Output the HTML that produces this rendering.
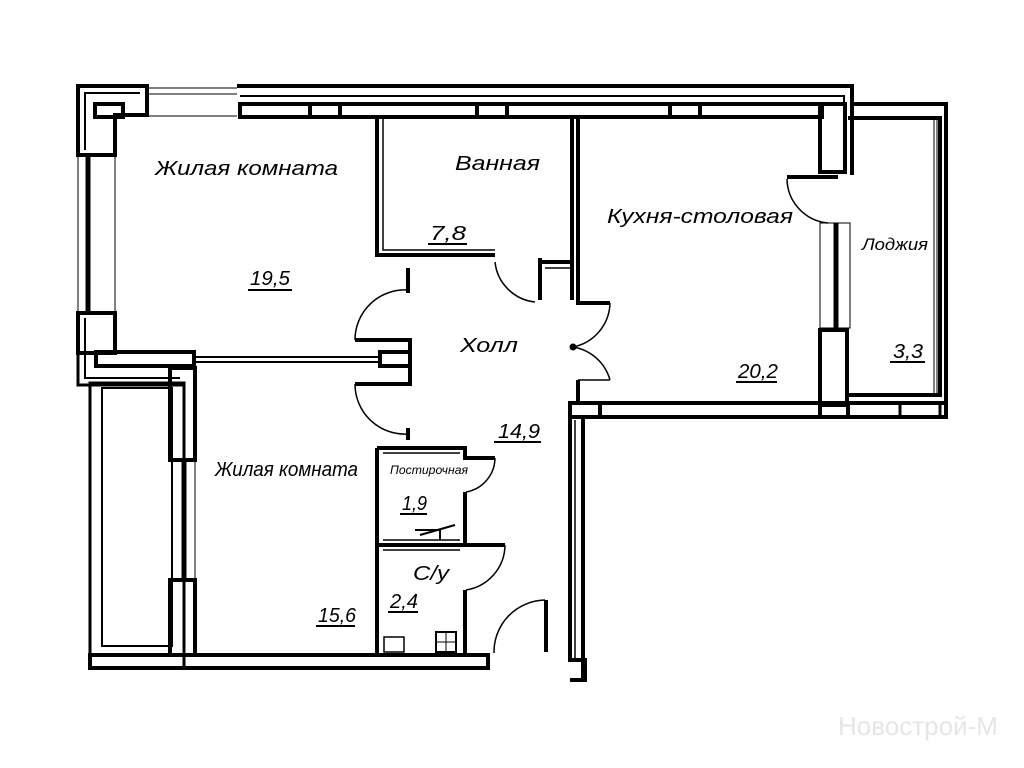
<!DOCTYPE html>
<html><head><meta charset="utf-8"><style>
html,body{margin:0;padding:0;background:#fff;}
svg{display:block}
text{font-family:"Liberation Sans","DejaVu Sans",sans-serif;font-style:italic;fill:#000}
</style></head><body>
<svg width="1024" height="768" viewBox="0 0 1024 768" xmlns="http://www.w3.org/2000/svg">
<rect width="1024" height="768" fill="#fff"/>
<g fill="none" stroke="#000">
<path d="M237 86 H852 V175" stroke-width="4"/>
<path d="M240 96 H844 V172" stroke-width="2"/>
<rect x="240" y="104" width="582" height="13" stroke-width="4"/>
<rect x="310" y="104" width="30" height="13" stroke-width="4"/>
<rect x="477" y="104" width="30" height="13" stroke-width="4"/>
<rect x="670" y="104" width="30" height="13" stroke-width="4"/>
<rect x="820" y="104" width="25" height="68" stroke-width="4"/>
<path d="M147 88 H237 M147 94 H237 M147 116 H237" stroke-width="1"/>
<path d="M78 155 V86 H147 V115 H115 V155 Z" stroke-width="4"/>
<path d="M85 150 V93 H140" stroke-width="2"/>
<rect x="95" y="104" width="28" height="13" stroke-width="4"/>
<path d="M78 155 H115 V313 H78 Z" stroke-width="1"/>
<path d="M88 155 V313" stroke-width="5"/>
<rect x="78" y="313" width="37" height="40" stroke-width="4"/>
<path d="M78 313 V385 H185" stroke-width="3"/>
<path d="M85 318 V378 H180" stroke-width="2"/>
<rect x="96" y="352" width="98" height="14" stroke-width="4"/>
<path d="M194 357 H382 M194 362 H382" stroke-width="2"/>
<rect x="380" y="352" width="30" height="14" stroke-width="4"/>
<path d="M355 340 H410 V384 H355" stroke-width="4"/>
<path d="M355 340 A50 50 0 0 1 408 290 M355 384 A50 50 0 0 0 408 434" stroke-width="1.5"/>
<path d="M408 268 V293 M408 428 V440" stroke-width="4"/>
<rect x="90" y="383" width="94" height="285" stroke-width="3"/>
<rect x="102" y="388" width="70" height="258" stroke-width="2"/>
<rect x="170" y="368" width="25" height="92" stroke-width="4"/>
<rect x="170" y="580" width="25" height="75" stroke-width="4"/>
<path d="M184 460 V580" stroke-width="5"/>
<path d="M195 460 V580" stroke-width="1"/>
<rect x="90" y="655" width="398" height="13" stroke-width="4"/>
<path d="M377 118 V255 H495 M540 258 V300 M540 262 H572 M572 118 V300" stroke-width="4"/>
<path d="M383 118 V250 H495 M545 268 H572" stroke-width="1.5"/>
<path d="M495 262 A45 45 0 0 0 535 302" stroke-width="1.5"/>
<path d="M578 118 V303 H610 M578 380 V405" stroke-width="4"/>
<path d="M610 303 A46 46 0 0 1 573 347 A46 46 0 0 1 610 380 M578 380 H610" stroke-width="1.5"/>
<circle cx="573" cy="347" r="3" fill="#000"/>
<rect x="570" y="403" width="376" height="14" stroke-width="4"/>
<rect x="570" y="403" width="30" height="14" stroke-width="4"/>
<rect x="820" y="403" width="28" height="14" stroke-width="4"/>
<rect x="900" y="403" width="40" height="14" stroke-width="3"/>
<path d="M570 417 V660 H585 V680 H570 M583 417 V680" stroke-width="4"/>
<path d="M575 420 V660" stroke-width="1.5"/>
<path d="M787 177 H838" stroke-width="4"/>
<path d="M787 179 A45 45 0 0 0 828 223" stroke-width="1.5"/>
<rect x="820" y="223" width="30" height="105" stroke-width="1"/>
<path d="M836 223 V328" stroke-width="5"/>
<rect x="820" y="330" width="27" height="75" stroke-width="4"/>
<path d="M852 104 H946 V415 M848 118 H940 V395 H848" stroke-width="4"/>
<path d="M934 118 V395 M937 118 V395" stroke-width="1"/>
<path d="M377 448 V655 M377 448 H465 V458 H495 M465 492 V545 H377 M465 545 H505 M465 590 V655" stroke-width="4"/>
<path d="M383 453 H460 M383 540 H460 M383 550 H460" stroke-width="1.5"/>
<path d="M495 458 A35 35 0 0 1 466 492 M505 545 A46 46 0 0 1 466 590" stroke-width="1.5"/>
<path d="M494 653 A52 52 0 0 1 545 600" stroke-width="1.5"/>
<path d="M546 600 V652" stroke-width="4"/>
<path d="M488 656 V668" stroke-width="4"/>
<path d="M420 535 L455 525 M415 530 H440 V540" stroke-width="2"/>
<rect x="436" y="632" width="20" height="20" stroke-width="2"/>
<path d="M436 642 H456 M446 632 V652" stroke-width="1"/>
<rect x="384" y="637" width="20" height="15" stroke-width="1.5"/>
</g>
<g font-size="20" lengthAdjust="spacingAndGlyphs">
<text x="155" y="175" textLength="183" lengthAdjust="spacingAndGlyphs">Жилая комната</text>
<text x="455" y="170" textLength="85" lengthAdjust="spacingAndGlyphs">Ванная</text>
<text x="607" y="223" textLength="186" lengthAdjust="spacingAndGlyphs">Кухня-столовая</text>
<text x="862" y="250" font-size="17" textLength="66" lengthAdjust="spacingAndGlyphs">Лоджия</text>
<text x="460" y="352" textLength="58" lengthAdjust="spacingAndGlyphs">Холл</text>
<text x="215" y="476" textLength="143" lengthAdjust="spacingAndGlyphs">Жилая комната</text>
<text x="413" y="580" textLength="36" lengthAdjust="spacingAndGlyphs">С/у</text>
<text x="390" y="474" font-size="12" textLength="78" lengthAdjust="spacingAndGlyphs">Постирочная</text>
<text x="250" y="285" textLength="40" lengthAdjust="spacingAndGlyphs">19,5</text>
<text x="430" y="240" textLength="36" lengthAdjust="spacingAndGlyphs">7,8</text>
<text x="738" y="378" textLength="40" lengthAdjust="spacingAndGlyphs">20,2</text>
<text x="893" y="358" textLength="30" lengthAdjust="spacingAndGlyphs">3,3</text>
<text x="498" y="438" textLength="42" lengthAdjust="spacingAndGlyphs">14,9</text>
<text x="402" y="510" textLength="25" lengthAdjust="spacingAndGlyphs">1,9</text>
<text x="390" y="608" textLength="28" lengthAdjust="spacingAndGlyphs">2,4</text>
<text x="318" y="622" textLength="38" lengthAdjust="spacingAndGlyphs">15,6</text>
</g>
<g stroke="#000" stroke-width="2">
<path d="M248 290 H292 M428 244 H467 M736 382 H777 M890 362 H925 M494 442 H541 M400 514 H427 M388 612 H418 M316 626 H355"/>
</g>
<text x="838" y="735" font-size="26" style="fill:#e6e6e6;font-style:normal">Новострой-М</text>
</svg>
</body></html>
